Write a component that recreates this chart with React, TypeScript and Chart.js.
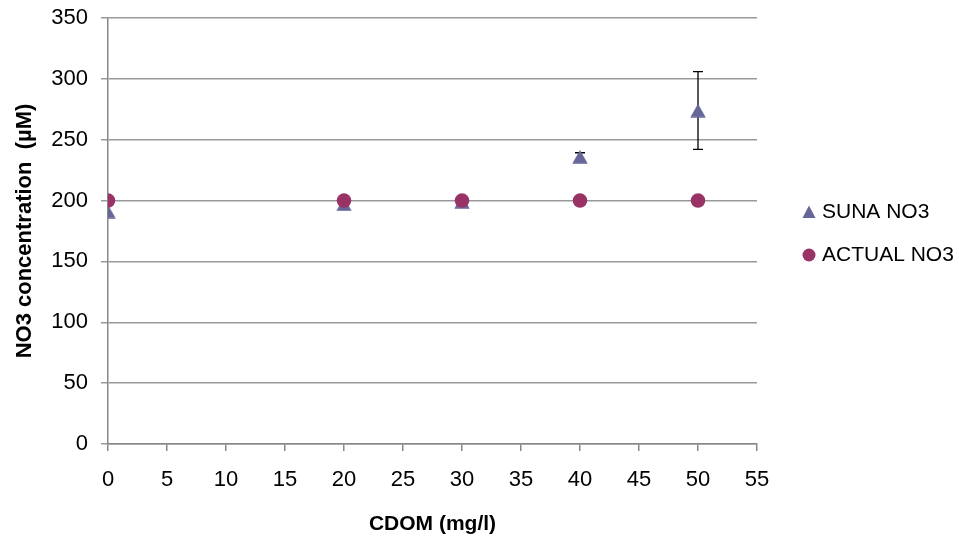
import React, { useEffect, useRef } from "react";
import { Chart, registerables } from "chart.js";

Chart.register(...registerables);

const cdom = [0, 20, 30, 40, 50];
const sunaNO3 = [191, 197, 199, 236, 274];
const sunaErr = [0, 0, 0, 3.3, 32];
const actualNO3 = [200, 200, 200, 200, 200];
const seriesNames = ["SUNA NO3", "ACTUAL NO3"];
const xTitle = "CDOM (mg/l)";
const yTitle = "NO3 concentration  (µM)";

const FONT = "'Liberation Sans', Arial, sans-serif";
const SUNA_COLOR = "#666699";
const ACTUAL_COLOR = "#993366";

function makeTriangle(): HTMLCanvasElement {
  const c = document.createElement("canvas");
  c.width = 16;
  c.height = 14;
  const ctx = c.getContext("2d")!;
  ctx.fillStyle = SUNA_COLOR;
  ctx.beginPath();
  ctx.moveTo(8, 0.3);
  ctx.lineTo(15.7, 13.7);
  ctx.lineTo(0.3, 13.7);
  ctx.closePath();
  ctx.fill();
  return c;
}

const errorBarPlugin = {
  id: "errorBars",
  beforeDatasetsDraw(chart: any) {
    const ctx = chart.ctx;
    const xs = chart.scales.x;
    const ys = chart.scales.y;
    ctx.save();
    ctx.strokeStyle = "#000";
    ctx.lineWidth = 1.3;
    cdom.forEach((c, i) => {
      const e = sunaErr[i];
      if (!e) return;
      const px = xs.getPixelForValue(c);
      const top = ys.getPixelForValue(sunaNO3[i] + e);
      const bot = ys.getPixelForValue(sunaNO3[i] - e);
      ctx.beginPath();
      ctx.moveTo(px, top);
      ctx.lineTo(px, bot);
      ctx.moveTo(px - 5, top);
      ctx.lineTo(px + 5, top);
      ctx.moveTo(px - 5, bot);
      ctx.lineTo(px + 5, bot);
      ctx.stroke();
    });
    ctx.restore();
  },
};

const legendPlugin = {
  id: "customLegend",
  afterDraw(chart: any) {
    const ctx = chart.ctx;
    const area = chart.chartArea;
    const mx = area.right + 52;
    const tx = area.right + 65;
    const y1 = 212;
    const y2 = 255;
    ctx.save();
    ctx.fillStyle = SUNA_COLOR;
    ctx.beginPath();
    ctx.moveTo(mx, y1 - 6.5);
    ctx.lineTo(mx + 6.5, y1 + 6);
    ctx.lineTo(mx - 6.5, y1 + 6);
    ctx.closePath();
    ctx.fill();
    ctx.fillStyle = ACTUAL_COLOR;
    ctx.beginPath();
    ctx.arc(mx, y2, 6.5, 0, Math.PI * 2);
    ctx.fill();
    ctx.fillStyle = "#000";
    ctx.font = `21px ${FONT}`;
    ctx.textBaseline = "middle";
    ctx.textAlign = "left";
    ctx.fillText(seriesNames[0], tx, y1);
    ctx.fillText(seriesNames[1], tx, y2);
    ctx.restore();
  },
};

export default function App() {
  const ref = useRef<HTMLCanvasElement>(null);
  useEffect(() => {
    if (!ref.current) return;
    const tri = makeTriangle();
    const chart = new Chart(ref.current, {
      type: "scatter",
      data: {
        datasets: [
          {
            label: seriesNames[0],
            data: cdom.map((x, i) => ({ x, y: sunaNO3[i] })),
            pointStyle: tri,
            pointRadius: 8,
            backgroundColor: SUNA_COLOR,
            borderColor: SUNA_COLOR,
            borderWidth: 0,
            order: 1,
          },
          {
            label: seriesNames[1],
            data: cdom.map((x, i) => ({ x, y: actualNO3[i] })),
            pointStyle: "circle",
            pointRadius: 7.3,
            backgroundColor: ACTUAL_COLOR,
            borderColor: ACTUAL_COLOR,
            borderWidth: 0,
            order: 0,
          },
        ],
      },
      options: {
        animation: false,
        responsive: false,
        layout: { padding: { left: 0, top: 18, right: 202, bottom: 0 } },
        plugins: { legend: { display: false }, tooltip: { enabled: false } },
        scales: {
          x: {
            type: "linear",
            min: 0,
            max: 55,
            ticks: { stepSize: 5, color: "#000", font: { family: FONT, size: 22 }, padding: 16, maxRotation: 0 },
            grid: { drawOnChartArea: false, drawTicks: true, tickLength: 7, color: "#888", lineWidth: 1.5 },
            border: { display: true, color: "#888", width: 1.5 },
            title: {
              display: true,
              text: xTitle,
              color: "#000",
              font: { family: FONT, size: 21, weight: "bold" },
              padding: { top: 0, bottom: 2 },
            },
            afterFit(scale: any) {
              scale.height = 539 - 444;
            },
          },
          y: {
            type: "linear",
            min: 0,
            max: 350,
            ticks: { stepSize: 50, color: "#000", font: { family: FONT, size: 22 }, padding: 13 },
            grid: { color: "#999", lineWidth: 1.5, tickLength: 7, drawTicks: true },
            border: { display: true, color: "#888", width: 1.5 },
            title: {
              display: true,
              text: yTitle,
              color: "#000",
              font: { family: FONT, size: 22, weight: "bold" },
              padding: { top: 12, bottom: 0 },
            },
            afterFit(scale: any) {
              scale.width = 108;
              scale.paddingTop = 0;
              scale.paddingBottom = 0;
            },
          },
        },
      } as any,
      plugins: [errorBarPlugin, legendPlugin],
    });
    return () => chart.destroy();
  }, []);
  return (
    <div style={{ position: "absolute", left: 0, top: 0, width: 959, height: 539, background: "#fff" }}>
      <canvas ref={ref} width={959} height={539} />
    </div>
  );
}
